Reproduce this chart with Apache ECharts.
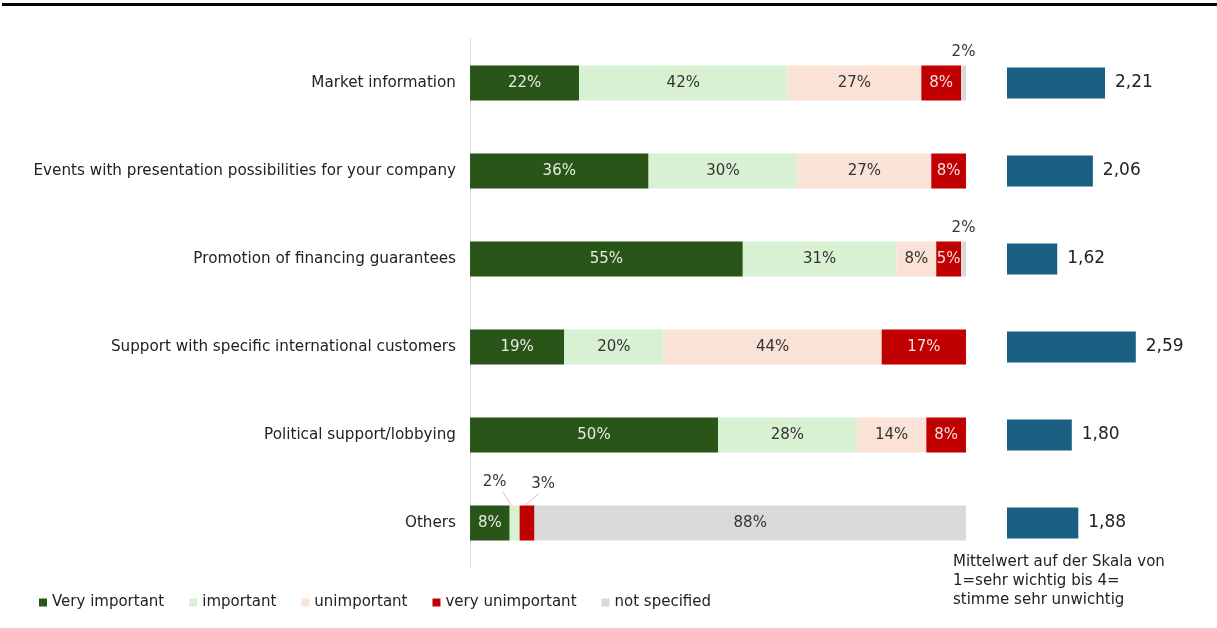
<!DOCTYPE html>
<html>
<head>
<meta charset="utf-8">
<script src="https://cdn.jsdelivr.net/npm/echarts@6/dist/echarts.min.js"></script>
<style>
  html, body { margin: 0; padding: 0; background: #fff; }
  #chart { width: 1217px; height: 628px; }
</style>
</head>
<body>
<div id="chart"></div>
<script>
// Survey items, top to bottom
const categories = [
  'Market information',
  'Events with presentation possibilities for your company',
  'Promotion of financing guarantees',
  'Support with specific international customers',
  'Political support/lobbying',
  'Others'
];
const seriesNames = ['Very important', 'important', 'unimportant', 'very unimportant', 'not specified'];
// Share of answers in percent
const veryImportant   = [22, 36, 55, 19, 50, 8];
const important       = [42, 30, 31, 20, 28, 2];
const unimportant     = [27, 27, 8, 44, 14, 0];
const veryUnimportant = [8, 8, 5, 17, 8, 3];
const notSpecified    = [2, 0, 2, 0, 0, 88];
// Mean on a 1..4 scale
const meanValues = [2.21, 2.06, 1.62, 2.59, 1.80, 1.88];
const noteLines = ['Mittelwert auf der Skala von', '1=sehr wichtig bis 4=', 'stimme sehr unwichtig'];

const FONT = 'DejaVu Sans';
const colors = ['#2a5519', '#d9f1d3', '#fbe2d7', '#c00000', '#d9d9d9'];
const textColors = ['#e4eedf', '#333333', '#333333', '#f6dede', '#333333'];
const shares = [veryImportant, important, unimportant, veryUnimportant, notSpecified];

// Slices on the "Others" row that are labelled above the bar with a guide line
const calloutRow = 5;
const callouts = [
  { series: 1, dx: -20, dy: -23 },
  { series: 3, dx: 16, dy: -21 }
];
const isCallout = (si, i) => i === calloutRow && callouts.some(c => c.series === si);

const stackSeries = shares.map((arr, si) => ({
  name: seriesNames[si],
  type: 'bar',
  stack: 'total',
  xAxisIndex: 0,
  yAxisIndex: 0,
  barWidth: 35,
  clip: true,
  itemStyle: { color: colors[si] },
  label: {
    show: true,
    position: 'inside',
    color: textColors[si],
    fontFamily: FONT,
    fontSize: 15,
    formatter: p => (p.value > 0 ? p.value + '%' : '')
  },
  data: arr.map((v, i) => {
    const item = { value: v };
    if (isCallout(si, i)) {
      item.label = { show: false };
    } else if (si === 4 && v > 0 && v < 5) {
      // narrow slice: label sits above the bar
      item.label = { position: 'top', distance: 6, color: '#333' };
    }
    return item;
  })
}));

const chart = echarts.init(document.getElementById('chart'), null, { renderer: 'canvas' });
chart.setOption({
  animation: false,
  textStyle: { fontFamily: FONT },
  grid: [
    { left: 470, top: 39, width: 496, height: 528 },
    { left: 1007, top: 39, width: 162, height: 528 }
  ],
  xAxis: [
    { gridIndex: 0, type: 'value', min: 0, max: 100, show: false },
    { gridIndex: 1, type: 'value', min: 1, max: 3, show: false }
  ],
  yAxis: [
    {
      gridIndex: 0, type: 'category', data: categories, inverse: true,
      axisLine: { show: true, lineStyle: { color: '#d9d9d9' } },
      axisTick: { show: false },
      axisLabel: { color: '#222', fontFamily: FONT, fontSize: 15.2, margin: 14 }
    },
    {
      gridIndex: 1, type: 'category', data: categories, inverse: true,
      axisLine: { show: false }, axisTick: { show: false }, axisLabel: { show: false }
    }
  ],
  legend: {
    left: 34, top: 590,
    itemWidth: 8, itemHeight: 8, itemGap: 25,
    icon: 'rect',
    data: seriesNames,
    textStyle: { color: '#222', fontFamily: FONT, fontSize: 15 }
  },
  series: stackSeries.concat([{
    name: 'Mittelwert',
    type: 'bar',
    xAxisIndex: 1,
    yAxisIndex: 1,
    barWidth: 31,
    itemStyle: { color: '#1a5e81' },
    label: {
      show: true, position: 'right', distance: 10,
      color: '#222', fontFamily: FONT, fontSize: 17,
      formatter: p => p.value.toFixed(2).replace('.', ',')
    },
    data: meanValues
  }])
});

// Guide lines and labels for the narrow slices on the "Others" row
const graphics = [
  {
    type: 'line', silent: true,
    shape: { x1: 2, y1: 4.5, x2: 1217, y2: 4.5 },
    style: { stroke: '#000', lineWidth: 3 }
  },
  {
    type: 'text', left: 953, top: 553, silent: true,
    style: {
      text: noteLines.join('\n'),
      fontFamily: FONT, fontSize: 15, lineHeight: 19, fill: '#222'
    }
  }
];
callouts.forEach(c => {
  let start = 0;
  for (let s = 0; s < c.series; s++) start += shares[s][calloutRow];
  const v = shares[c.series][calloutRow];
  const mid = chart.convertToPixel({ gridIndex: 0 }, [start + v / 2, calloutRow]);
  const barTop = mid[1] - 35 / 2;
  const tx = mid[0] + c.dx;
  const ty = barTop + c.dy;
  graphics.push({
    type: 'line', silent: true,
    shape: { x1: tx + (c.dx < 0 ? 8 : -4), y1: ty + 9, x2: mid[0] + (c.dx < 0 ? -3 : -2), y2: barTop },
    style: { stroke: '#e4b9bd', lineWidth: 1 }
  });
  graphics.push({
    type: 'text', silent: true, x: tx, y: ty,
    style: {
      text: v + '%', fontFamily: FONT, fontSize: 15, fill: '#333',
      align: 'center', verticalAlign: 'middle'
    }
  });
});
chart.setOption({ graphic: graphics });
</script>
</body>
</html>
